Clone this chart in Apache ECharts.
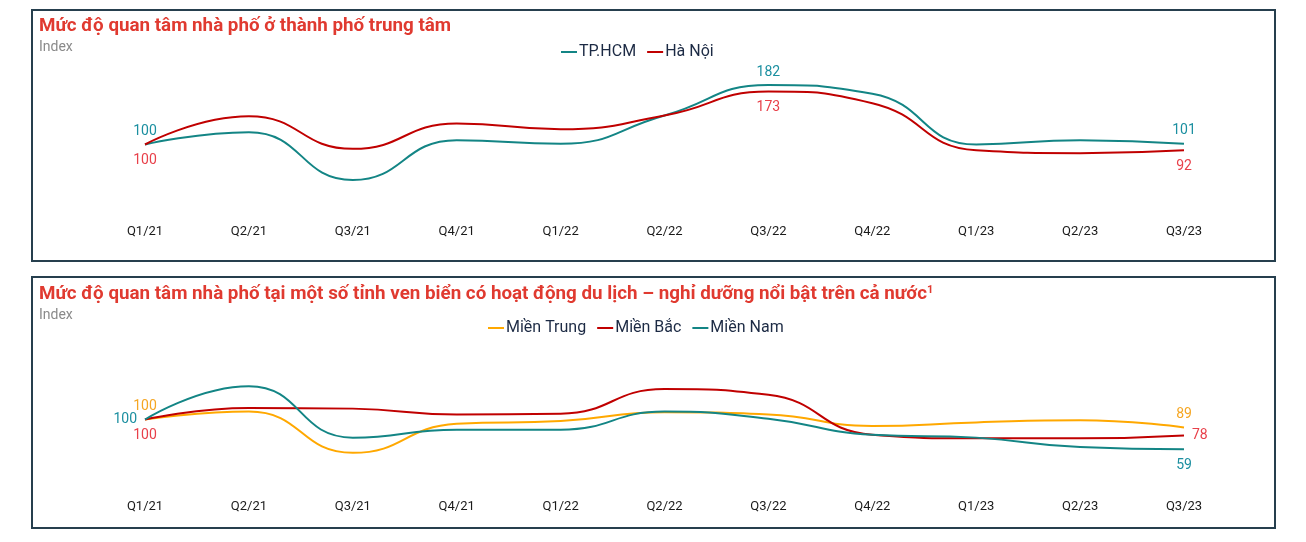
<!DOCTYPE html>
<html>
<head>
<meta charset="utf-8">
<script src="https://cdn.jsdelivr.net/npm/echarts@6/dist/echarts.min.js"></script>
<style>
html,body{margin:0;padding:0;background:#fff;}
#c{width:1306px;height:542px;}
</style>
</head>
<body>
<div id="c"></div>
<script>
const categories = ['Q1/21','Q2/21','Q3/21','Q4/21','Q1/22','Q2/22','Q3/22','Q4/22','Q1/23','Q2/23','Q3/23'];
const hcm = [100,117,51,106,101,140,182,170,100,106,101];
const hanoi = [100,139,94,129,121,140,173,157,92,88,92];
const mienTrung = [100,111,54,94,98,110,107,91,96,99,89];
const mienBac = [100,116,115,107,108,142,134,79,74,74,78];
const mienNam = [100,146,75,86,86,111,101,79,75,62,59];
const title1 = 'Mức độ quan tâm nhà phố ở thành phố trung tâm';
const title2 = 'Mức độ quan tâm nhà phố tại một số tỉnh ven biển có hoạt động du lịch – nghỉ dưỡng nổi bật trên cả nước';

const TEAL = '#138585', RED = '#c00000', YEL = '#ffa800';
const TEAL_L = '#1b8fa0', RED_L = '#e8404a', YEL_L = '#f5a623';
const titleFont = '"Roboto", sans-serif';

function withLabels(vals, marks, color) {
  return vals.map((v, i) => {
    if (marks[i] === undefined) return v;
    const pos = marks[i];
    const dist = pos === 'bottom' ? 9 : (pos === 'top' ? 6 : 8);
    return {value: v, label: {show: true, position: pos, color: color, fontSize: 14, distance: dist, fontFamily: 'Roboto'}};
  });
}
const last = categories.length - 1;

const chart = echarts.init(document.getElementById('c'), null, {renderer: 'canvas'});
const xAxisBase = {
  type: 'category', data: categories, boundaryGap: false,
  axisLine: {show: false}, axisTick: {show: false}, splitLine: {show: false},
  axisLabel: {color: '#1a1a1a', fontSize: 13, margin: 8, fontFamily: 'Roboto'}
};
const yAxisBase = {type: 'value', min: 0, max: 200, show: false};
function lineSeries(name, data, color, xi) {
  return {name, type: 'line', smooth: true, symbol: 'circle', symbolSize: 0, showSymbol: true, data,
    xAxisIndex: xi, yAxisIndex: xi, lineStyle: {color, width: 2}, itemStyle: {color},
    emphasis: {disabled: true}};
}
chart.setOption({
  animation: false,
  graphic: [
    {type: 'rect', shape: {x: 32, y: 10, width: 1243, height: 251}, style: {fill: 'none', stroke: '#263f4e', lineWidth: 2}},
    {type: 'rect', shape: {x: 32, y: 277, width: 1243, height: 251}, style: {fill: 'none', stroke: '#263f4e', lineWidth: 2}}
  ],
  title: [
    {text: title1, subtext: 'Index', left: 34, top: 12, itemGap: 4,
     textStyle: {color: '#e03a30', fontSize: 18.8, fontWeight: 'bold', fontFamily: titleFont},
     subtextStyle: {color: '#8a8a8a', fontSize: 14, fontFamily: 'Roboto'}},
    {text: '{a|' + title2 + '}{s|1}', subtext: 'Index', left: 34, top: 280, itemGap: 4,
     textStyle: {rich: {
       a: {color: '#e03a30', fontSize: 18.8, fontWeight: 'bold', fontFamily: titleFont},
       s: {color: '#e03a30', fontSize: 11, fontWeight: 'bold', fontFamily: titleFont, verticalAlign: 'top', padding: [0,0,8,0]}}},
     subtextStyle: {color: '#8a8a8a', fontSize: 14, fontFamily: 'Roboto'}}
  ],
  legend: [
    {data: ['TP.HCM', 'Hà Nội'], top: 39, left: 556, icon: 'rect', itemWidth: 16, itemHeight: 2, itemGap: 11,
     textStyle: {color: '#1c2a44', fontSize: 16, fontFamily: 'Roboto', padding: [0,0,0,-3]}},
    {data: ['Miền Trung', 'Miền Bắc', 'Miền Nam'], top: 315, left: 483, icon: 'rect', itemWidth: 16, itemHeight: 2, itemGap: 11,
     textStyle: {color: '#1c2a44', fontSize: 16, fontFamily: 'Roboto', padding: [0,0,0,-3]}}
  ],
  grid: [
    {left: 145, right: 122, top: 72, height: 145},
    {left: 145, right: 122, top: 347, height: 145}
  ],
  xAxis: [Object.assign({gridIndex: 0}, xAxisBase), Object.assign({gridIndex: 1}, xAxisBase)],
  yAxis: [Object.assign({gridIndex: 0}, yAxisBase), Object.assign({gridIndex: 1}, yAxisBase)],
  series: [
    lineSeries('TP.HCM', withLabels(hcm, {0: 'top', 6: 'top', [last]: 'top'}, TEAL_L), TEAL, 0),
    lineSeries('Hà Nội', withLabels(hanoi, {0: 'bottom', 6: 'bottom', [last]: 'bottom'}, RED_L), RED, 0),
    lineSeries('Miền Trung', withLabels(mienTrung, {0: 'top', [last]: 'top'}, YEL_L), YEL, 1),
    lineSeries('Miền Bắc', withLabels(mienBac, {0: 'bottom', [last]: 'right'}, RED_L), RED, 1),
    lineSeries('Miền Nam', withLabels(mienNam, {0: 'left', [last]: 'bottom'}, TEAL_L), TEAL, 1)
  ]
});
</script>
</body>
</html>
